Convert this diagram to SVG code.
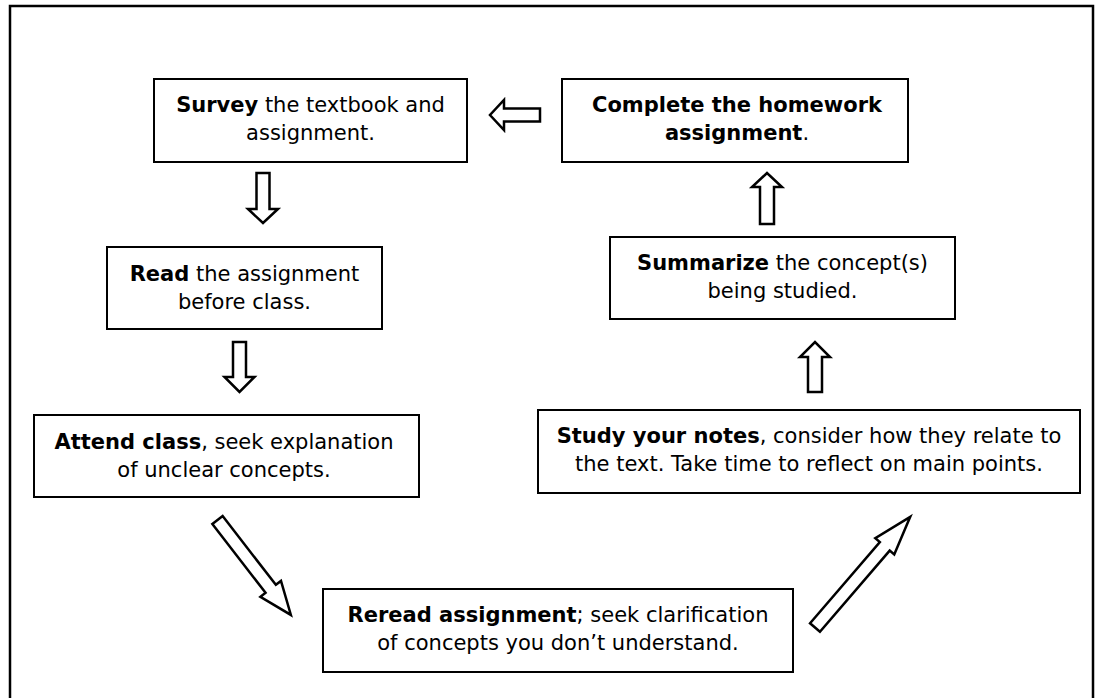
<svg xmlns="http://www.w3.org/2000/svg" width="1104" height="698" viewBox="0 0 1104 698">
<style>
.box{fill:#fff;stroke:#000;stroke-width:2}
.frame{fill:#fff;stroke:#000;stroke-width:2.5}
.t{font-family:"DejaVu Sans",Verdana,sans-serif;font-size:21px;fill:#000;text-anchor:middle}
.b{font-weight:bold}
.arr{fill:#fff;stroke:#000;stroke-width:2.5;stroke-linejoin:miter}
</style>
<rect class="frame" x="10" y="6" width="1083" height="720"/>
<g id="connectors">
<path class="arr" transform="translate(540,115) rotate(180)" d="M0,-6.5 H36 V-15 L50,0 L36,15 V6.5 H0 Z"/>
<path class="arr" transform="translate(263,173) rotate(90)" d="M0,-6.5 H36 V-15 L50,0 L36,15 V6.5 H0 Z"/>
<path class="arr" transform="translate(239.5,342) rotate(90)" d="M0,-6.5 H35 V-15 L50,0 L35,15 V6.5 H0 Z"/>
<path class="arr" transform="translate(767,224) rotate(-90)" d="M0,-7 H37 V-15 L51,0 L37,15 V7 H0 Z"/>
<path class="arr" transform="translate(815,392) rotate(-90)" d="M0,-7 H35 V-15 L50,0 L35,15 V7 H0 Z"/>
<path class="arr" transform="translate(217.5,520) rotate(52.3)" d="M0,-6.5 H87 V-13 L120,0 L87,13 V6.5 H0 Z"/>
<path class="arr" transform="translate(815,627.5) rotate(-49.3)" d="M0,-6.5 H107 V-12.5 L146,0 L107,12.5 V6.5 H0 Z"/>
</g>
<g id="survey">
<rect class="box" x="154" y="79" width="313" height="83"/>
<text class="t" x="310.5" y="112"><tspan class="b">Survey</tspan> the textbook and</text>
<text class="t" x="310.5" y="140">assignment.</text>
</g>
<g id="complete">
<rect class="box" x="562" y="79" width="346" height="83"/>
<text class="t b" x="737" y="112">Complete the homework</text>
<text class="t" x="737" y="140"><tspan class="b">assignment</tspan>.</text>
</g>
<g id="read">
<rect class="box" x="107" y="247" width="275" height="82"/>
<text class="t" x="244.5" y="281"><tspan class="b">Read</tspan> the assignment</text>
<text class="t" x="244.5" y="309">before class.</text>
</g>
<g id="attend">
<rect class="box" x="34" y="415" width="385" height="82"/>
<text class="t" x="224" y="449"><tspan class="b">Attend class</tspan>, seek explanation</text>
<text class="t" x="224" y="477">of unclear concepts.</text>
</g>
<g id="reread">
<rect class="box" x="323" y="589" width="470" height="83"/>
<text class="t" x="558" y="622"><tspan class="b">Reread assignment</tspan>; seek clarification</text>
<text class="t" x="558" y="650">of concepts you don’t understand.</text>
</g>
<g id="study">
<rect class="box" x="538" y="410" width="542" height="83"/>
<text class="t" x="809" y="443"><tspan class="b">Study your notes</tspan>, consider how they relate to</text>
<text class="t" x="809" y="471">the text. Take time to reflect on main points.</text>
</g>
<g id="summarize">
<rect class="box" x="610" y="237" width="345" height="82"/>
<text class="t" x="782.5" y="270"><tspan class="b">Summarize</tspan> the concept(s)</text>
<text class="t" x="782.5" y="298">being studied.</text>
</g>
</svg>
